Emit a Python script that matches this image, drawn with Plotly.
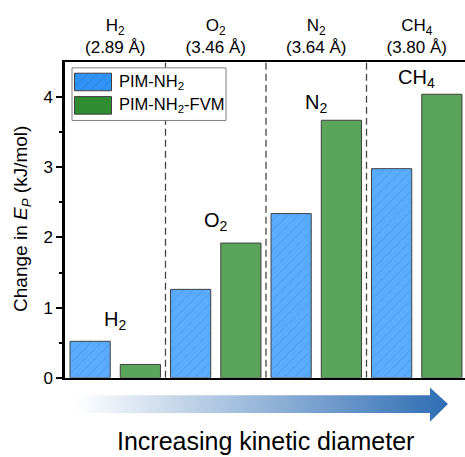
import plotly.graph_objects as go

# ---- data ----
gases = ["H<sub>2</sub>", "O<sub>2</sub>", "N<sub>2</sub>", "CH<sub>4</sub>"]
diameters = ["(2.89 Å)", "(3.46 Å)", "(3.64 Å)", "(3.80 Å)"]
pim_nh2 = [0.52, 1.26, 2.34, 2.98]
pim_nh2_fvm = [0.19, 1.92, 3.67, 4.04]
label_y = [0.82, 2.23, 3.91, 4.26]
series_names = ["PIM-NH<sub>2</sub>", "PIM-NH<sub>2</sub>-FVM"]
y_ticks = [0, 1, 2, 3, 4]

FONT = "Liberation Sans, Arial, sans-serif"
W, H = 465, 457
BLUE, BLUE_HATCH = "#5aacff", "#3a7bc8"
GREEN = "#5ba55b"
LEG_BLUE, LEG_BLUE_HATCH = "#3093f7", "#2565a8"
LEG_GREEN = "#2f8c30"

xpos = list(range(len(gases)))

fig = go.Figure()
fig.add_trace(go.Bar(
    x=xpos, y=pim_nh2, name=series_names[0], showlegend=False,
    marker=dict(color=BLUE, line=dict(color="#404040", width=1),
                pattern=dict(shape="/", fgcolor=BLUE_HATCH, bgcolor=BLUE,
                             size=7, solidity=0.12)),
    xaxis="x", yaxis="y"))
fig.add_trace(go.Bar(
    x=xpos, y=pim_nh2_fvm, name=series_names[1], showlegend=False,
    marker=dict(color=GREEN, line=dict(color="#404040", width=1)),
    xaxis="x", yaxis="y"))

# ---- decorative overlay in pixel coordinates (x2/y2) ----
# legend box
bx0, bx1, by0, by1 = 72, 226, 68, 122
fig.add_trace(go.Scatter(
    x=[bx0, bx1, bx1, bx0, bx0], y=[by0, by0, by1, by1, by0],
    mode="lines", fill="toself", fillcolor="white",
    line=dict(color="#808080", width=1), hoverinfo="skip",
    showlegend=False, xaxis="x2", yaxis="y2"))
# swatches
sx0, sx1 = 74.5, 111.5
fig.add_trace(go.Scatter(
    x=[sx0, sx1, sx1, sx0, sx0], y=[73.5, 73.5, 91.5, 91.5, 73.5],
    mode="lines", fill="toself", fillcolor=LEG_BLUE,
    fillpattern=dict(shape="/", fgcolor=LEG_BLUE_HATCH, bgcolor=LEG_BLUE,
                     size=7, solidity=0.12),
    line=dict(color="#404040", width=1), hoverinfo="skip",
    showlegend=False, xaxis="x2", yaxis="y2"))
fig.add_trace(go.Scatter(
    x=[sx0, sx1, sx1, sx0, sx0], y=[97.5, 97.5, 115.5, 115.5, 97.5],
    mode="lines", fill="toself", fillcolor=LEG_GREEN,
    line=dict(color="#404040", width=1), hoverinfo="skip",
    showlegend=False, xaxis="x2", yaxis="y2"))
# gradient arrow
ax_x = [75, 430, 430, 448, 430, 430, 75, 75]
ax_y = [404, 404, 396, 413, 431, 422, 422, 404]
fig.add_trace(go.Scatter(
    x=ax_x, y=ax_y, mode="lines", fill="toself",
    fillgradient=dict(type="horizontal",
                      colorscale=[[0, "rgba(255,255,255,1)"], [1, "#2e6db4"]]),
    line=dict(width=0, color="rgba(0,0,0,0)"), hoverinfo="skip",
    showlegend=False, xaxis="x2", yaxis="y2"))

# dashed separators
for i in range(len(gases) - 1):
    fig.add_shape(type="line", xref="x", yref="y", x0=i + 0.5, x1=i + 0.5,
                  y0=0, y1=4.5, line=dict(color="#444444", width=1.3, dash="7px,4px"),
                  layer="below")

annotations = []
for i, g in enumerate(gases):
    annotations.append(dict(x=i, y=label_y[i], xref="x", yref="y", text=g,
                            showarrow=False, xanchor="center", yanchor="middle",
                            font=dict(size=20, color="black", family=FONT)))
for yy, name in zip([82.5, 106.5], series_names):
    annotations.append(dict(x=117, y=yy, xref="x2", yref="y2", text=name,
                            showarrow=False, xanchor="left", yanchor="middle",
                            font=dict(size=16.5, color="black", family=FONT)))
annotations.append(dict(x=265, y=451, xref="x2", yref="y2",
                        text="Increasing kinetic diameter", showarrow=False,
                        xanchor="center", yanchor="middle",
                        font=dict(size=25, color="black", family=FONT)))
annotations.append(dict(x=22, y=223, xref="x2", yref="y2",
                        text="Change in <i>E</i><sub><i>P</i></sub> (kJ/mol)",
                        textangle=-90, showarrow=False,
                        xanchor="center", yanchor="middle",
                        font=dict(size=19, color="black", family=FONT)))

fig.update_layout(
    width=W, height=H,
    margin=dict(l=0, r=0, t=62, b=0, pad=0),
    paper_bgcolor="white", plot_bgcolor="rgba(0,0,0,0)",
    barmode="group", bargap=0, bargroupgap=0.2,
    font=dict(family=FONT, color="black", size=16),
    annotations=annotations,
    xaxis=dict(domain=[65 / W, 1], range=[-0.5, 3.48], side="top",
               tickvals=xpos,
               ticktext=[f"{g}<br>{d}" for g, d in zip(gases, diameters)],
               ticks="", showline=True, mirror=True, linecolor="black",
               linewidth=2, showgrid=False, zeroline=False,
               tickfont=dict(size=17, family=FONT), anchor="y"),
    yaxis=dict(domain=[71 / (H - 62), 1], range=[0, 4.5], tickvals=y_ticks,
               ticks="outside", ticklen=6, tickwidth=1.5, tickcolor="black",
               minor=dict(tickvals=[0.5, 1.5, 2.5, 3.5], ticks="outside",
                          ticklen=3, tickwidth=1.5, tickcolor="black"),
               showline=True, linecolor="black", linewidth=2.5,
               showgrid=False, zeroline=False,
               tickfont=dict(size=17, family=FONT), anchor="x"),
    xaxis2=dict(domain=[0, 1], range=[0, W], visible=False, anchor="y2",
                fixedrange=True),
    yaxis2=dict(domain=[0, 1], range=[H, 62], visible=False, anchor="x2",
                fixedrange=True),
)

fig.write_html("out.html")
